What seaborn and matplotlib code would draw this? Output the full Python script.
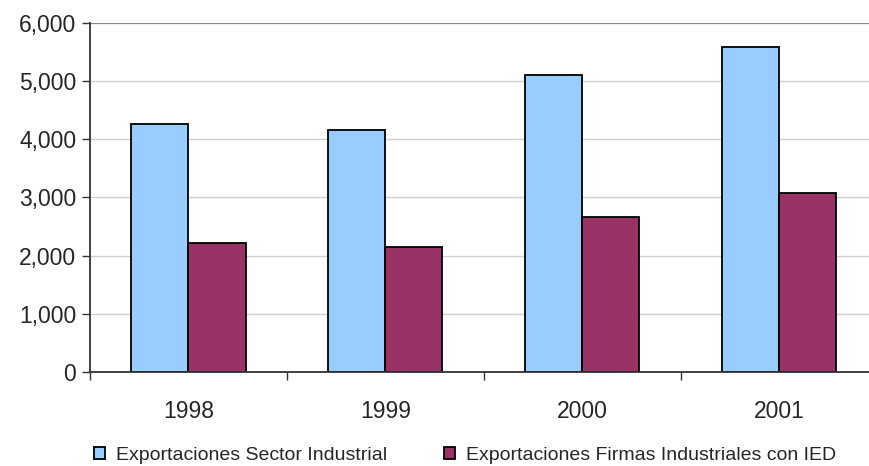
import pandas as pd
import matplotlib
matplotlib.use("Agg")
import matplotlib.pyplot as plt
import seaborn as sns
from matplotlib.ticker import FuncFormatter, FixedLocator

# data
years = ["1998", "1999", "2000", "2001"]
sector_industrial = [4265, 4160, 5105, 5585]
firmas_ied = [2218, 2150, 2665, 3077]
series_names = ["Exportaciones Sector Industrial", "Exportaciones Firmas Industriales con IED"]
colors = ["#99CCFF", "#993366"]

df = pd.DataFrame({
    "year": years * 2,
    "value": sector_industrial + firmas_ied,
    "serie": [series_names[0]] * 4 + [series_names[1]] * 4,
})

sns.set_style("white")
plt.rcParams["font.family"] = ["Liberation Sans", "DejaVu Sans"]

fig = plt.figure(figsize=(8.69, 4.66), dpi=100)
ax = fig.add_axes([0.1036, 0.2017, 0.906, 0.749])

sns.barplot(data=df, x="year", y="value", hue="serie", palette=colors,
            width=0.58, edgecolor="black", linewidth=1.3, saturation=1,
            ax=ax, legend=True)

ax.set_ylim(0, 6000)
ax.set_xlim(-0.5, 3.5)
ax.set_yticks(range(0, 6001, 1000))
ax.yaxis.set_major_formatter(FuncFormatter(lambda v, p: f"{int(v):,}"))
ax.grid(axis="y", color="#d0d0d0", linewidth=1)
ax.axhline(6000, color="#888888", linewidth=1.5)
ax.set_axisbelow(True)

for s in ["top", "right"]:
    ax.spines[s].set_visible(False)
ax.spines["left"].set_color("#333333")
ax.spines["bottom"].set_color("#333333")
ax.spines["left"].set_linewidth(1.3)
ax.spines["bottom"].set_linewidth(1.3)

ax.tick_params(axis="y", left=True, length=6, width=1, color="#333333", labelsize=16.5, pad=4)
ax.tick_params(axis="x", which="major", length=0, labelsize=16.5, pad=20)
ax.xaxis.set_minor_locator(FixedLocator([0.5, 1.5, 2.5, 3.5, -0.5]))
ax.tick_params(axis="x", which="minor", bottom=True, length=6, width=1, color="#333333")
ax.set_xlabel("")
ax.set_ylabel("")

handles, labels = ax.get_legend_handles_labels()
ax.legend(handles, labels, loc="center", bbox_to_anchor=(0.535, 0.023),
          bbox_transform=fig.transFigure, ncol=2, frameon=False,
          fontsize=14, handlelength=0.6, handleheight=0.6,
          handletextpad=0.55, columnspacing=2.9)

fig.savefig("out.png", dpi=100)
